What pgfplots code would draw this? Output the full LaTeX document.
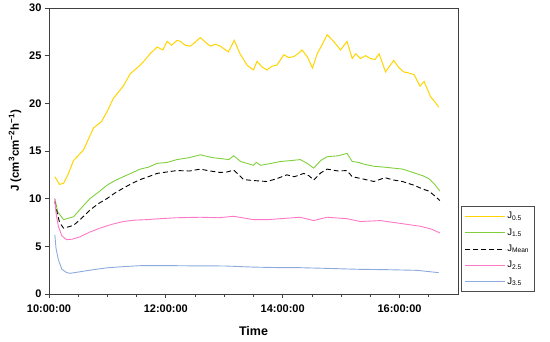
\documentclass[border=0pt]{standalone}
\usepackage{pgfplots}
\pgfplotsset{compat=1.18}
\usepackage{fontspec}
\setmainfont{Liberation Sans}
\definecolor{cyel}{RGB}{255,212,0}
\definecolor{cgrn}{RGB}{128,208,60}
\definecolor{cpnk}{RGB}{255,120,200}
\definecolor{cblu}{RGB}{140,170,222}
\begin{document}
\begin{tikzpicture}
\path[use as bounding box] (-49pt,-48pt) rectangle (501pt,294pt);
\begin{axis}[
  at={(0pt,0pt)}, anchor=south west,
  scale only axis, width=409pt, height=286pt,
  xmin=10, xmax=17, ymin=0, ymax=30,
  xtick={10,12,14,16},
  xticklabels={10:00:00,12:00:00,14:00:00,16:00:00},
  minor xtick={10.5,11,11.5,12.5,13,13.5,14.5,15,15.5,16.5},
  ytick={0,5,10,15,20,25,30},
  tick pos=left, tick align=outside,
  major tick length=4pt, minor tick length=3pt,
  axis line style={draw=black!75, line width=0.8pt},
  every tick/.style={draw=black!75, line width=0.8pt},
  /pgf/number format/assume math mode=true,
  ticklabel style={font=\bfseries\fontsize{11}{13}\selectfont},
  xticklabel style={yshift=-3pt},
  xlabel={Time},
  ylabel={J (cm\textsuperscript{3}cm\textsuperscript{−2}h\textsuperscript{−1})},
  xlabel style={font=\bfseries\fontsize{12.5}{14}\selectfont, at={(axis description cs:0.5,-0.13)}, anchor=center},
  ylabel style={font=\bfseries\fontsize{11.5}{14}\selectfont, at={(axis description cs:-0.083,0.5)}, anchor=center, rotate=0},
  legend style={at={(axis description cs:1.0073,0.007)}, anchor=south west,
    draw=black!70, line width=0.6pt, font=\fontsize{9.5}{11}\selectfont,
    inner xsep=3pt, inner ysep=4pt, row sep=4.3pt, cells={anchor=west}},
  legend image code/.code={\draw[#1] (0pt,0pt) -- (40pt,0pt);},
]
\addplot[cyel, line width=1pt] coordinates {
(10.10,12.3)(10.18,11.5)(10.25,11.6)(10.33,12.6)(10.42,14.0)(10.59,15.1)(10.76,17.4)(10.90,18.1)
(11.00,19.2)(11.10,20.5)(11.27,21.8)(11.39,23.1)(11.56,24.0)(11.65,24.6)(11.73,25.2)(11.85,25.9)
(11.95,25.6)(12.02,26.5)(12.10,26.1)(12.19,26.6)(12.25,26.5)(12.33,26.1)(12.42,26.0)(12.50,26.4)
(12.59,26.9)(12.68,26.4)(12.76,26.0)(12.85,26.2)(12.93,26.0)(13.00,25.7)(13.07,25.4)(13.17,26.6)
(13.27,25.2)(13.39,24.0)(13.50,23.5)(13.56,24.4)(13.65,23.8)(13.73,23.5)(13.82,23.9)(13.90,24.0)
(14.02,25.1)(14.10,24.8)(14.19,24.9)(14.26,25.2)(14.33,25.6)(14.42,24.9)(14.51,23.7)(14.59,25.2)
(14.67,26.1)(14.76,27.2)(14.87,26.5)(14.99,25.6)(15.10,26.5)(15.19,24.7)(15.25,25.2)(15.33,24.7)
(15.42,25.0)(15.50,24.7)(15.58,24.6)(15.65,25.2)(15.76,23.3)(15.90,24.5)(15.98,23.8)(16.07,23.3)
(16.15,23.2)(16.25,23.0)(16.35,21.8)(16.42,22.3)(16.53,20.7)(16.60,20.2)(16.67,19.6)
};
\addlegendentry{J\textsubscript{0.5}}
\addplot[cgrn, line width=0.9pt] coordinates {
(10.10,10.0)(10.15,8.6)(10.25,7.8)(10.42,8.1)(10.55,9.0)(10.70,10.0)(10.85,10.7)(10.99,11.4)
(11.13,11.9)(11.27,12.3)(11.42,12.7)(11.56,13.1)(11.70,13.3)(11.85,13.7)(12.02,13.8)(12.19,14.1)
(12.40,14.3)(12.59,14.6)(12.80,14.3)(12.95,14.2)(13.08,14.1)(13.16,14.5)(13.28,13.9)(13.39,13.7)
(13.50,13.5)(13.55,13.8)(13.62,13.5)(13.80,13.7)(13.96,13.9)(14.15,14.0)(14.30,14.1)(14.42,13.7)
(14.53,13.2)(14.65,14.0)(14.76,14.4)(14.95,14.5)(15.10,14.75)(15.19,13.9)(15.30,13.8)(15.40,13.6)
(15.56,13.4)(15.75,13.3)(15.90,13.2)(16.05,13.1)(16.25,12.7)(16.40,12.4)(16.50,12.1)(16.60,11.5)
(16.69,10.8)
};
\addlegendentry{J\textsubscript{1.5}}
\addplot[black, line width=0.9pt, dash pattern=on 5pt off 3pt] coordinates {
(10.10,9.7)(10.13,8.8)(10.18,7.5)(10.25,6.9)(10.42,7.2)(10.55,7.9)(10.70,8.8)(10.85,9.5)
(10.99,10.0)(11.13,10.6)(11.27,11.1)(11.42,11.6)(11.56,12.0)(11.70,12.3)(11.85,12.65)(12.02,12.8)
(12.19,12.95)(12.40,12.9)(12.59,13.1)(12.76,12.9)(12.93,12.75)(13.05,12.8)(13.16,13.0)(13.25,12.5)
(13.33,12.0)(13.50,11.9)(13.73,11.8)(13.90,12.1)(14.07,12.5)(14.20,12.3)(14.36,12.65)(14.45,12.4)
(14.53,11.95)(14.65,12.7)(14.76,13.1)(14.95,12.9)(15.10,12.95)(15.19,12.3)(15.35,12.1)(15.56,11.8)
(15.75,12.2)(15.90,11.95)(16.05,11.8)(16.25,11.4)(16.40,11.0)(16.50,10.8)(16.60,10.3)(16.69,9.8)
};
\addlegendentry{J\textsubscript{Mean}}
\addplot[cpnk, line width=0.9pt] coordinates {
(10.10,10.0)(10.12,8.5)(10.16,7.1)(10.22,6.1)(10.30,5.7)(10.40,5.75)(10.53,6.0)(10.70,6.5)
(10.87,6.9)(11.07,7.3)(11.27,7.6)(11.47,7.75)(11.67,7.8)(11.90,7.9)(12.19,8.0)(12.59,8.05)
(12.90,8.0)(13.16,8.15)(13.50,7.8)(13.75,7.8)(13.96,7.9)(14.30,8.05)(14.53,7.7)(14.76,8.05)
(15.10,7.9)(15.33,7.6)(15.67,7.7)(16.02,7.4)(16.36,7.1)(16.55,6.8)(16.69,6.4)
};
\addlegendentry{J\textsubscript{2.5}}
\addplot[cblu, line width=0.9pt] coordinates {
(10.10,6.2)(10.12,4.8)(10.16,3.6)(10.22,2.6)(10.30,2.25)(10.36,2.17)(10.50,2.3)(10.70,2.5)
(11.00,2.75)(11.27,2.87)(11.56,2.97)(12.00,2.98)(12.50,2.95)(13.00,2.94)(13.50,2.82)(14.00,2.76)
(14.30,2.76)(14.80,2.68)(15.30,2.59)(15.80,2.55)(16.30,2.48)(16.67,2.24)
};
\addlegendentry{J\textsubscript{3.5}}
\end{axis}
\end{tikzpicture}
\end{document}
